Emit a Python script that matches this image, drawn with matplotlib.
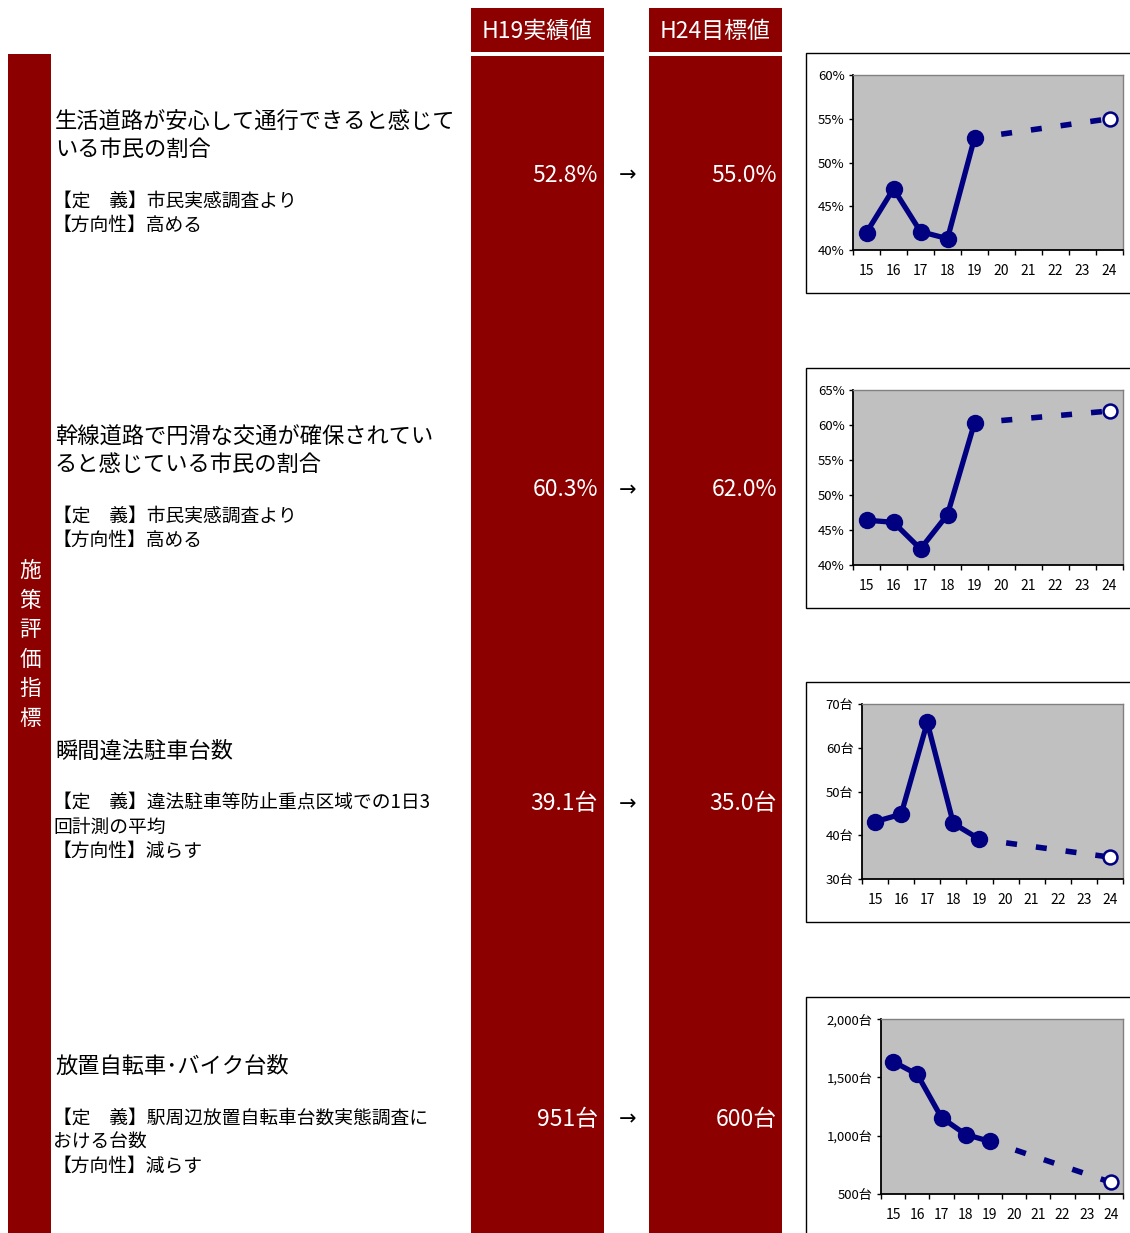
import numpy as np
import matplotlib.pyplot as plt
from matplotlib.patches import Rectangle
from matplotlib.ticker import FixedLocator, FuncFormatter

plt.rcParams['font.family'] = ['Noto Sans CJK JP', 'DejaVu Sans']
plt.rcParams['lines.scale_dashes'] = False

# ---- data ----
years = ['15', '16', '17', '18', '19', '20', '21', '22', '23', '24']

titles = [
    ['生活道路が安心して通行できると感じて', 'いる市民の割合'],
    ['幹線道路で円滑な交通が確保されてい', 'ると感じている市民の割合'],
    ['瞬間違法駐車台数'],
    ['放置自転車\uff65バイク台数'],
]
definitions = [
    ['【定\u3000義】市民実感調査より', '【方向性】高める'],
    ['【定\u3000義】市民実感調査より', '【方向性】高める'],
    ['【定\u3000義】違法駐車等防止重点区域での1日3', '回計測の平均', '【方向性】減らす'],
    ['【定\u3000義】駅周辺放置自転車台数実態調査に', 'おける台数', '【方向性】減らす'],
]
h19_labels = ['52.8%', '60.3%', '39.1台', '951台']
h24_labels = ['55.0%', '62.0%', '35.0台', '600台']

actual_1 = [42.0, 47.0, 42.1, 41.3, 52.8]
actual_2 = [46.4, 46.1, 42.3, 47.2, 60.3]
actual_3 = [43.1, 44.8, 65.8, 42.7, 39.1]
actual_4 = [1635, 1525, 1155, 1010, 951]
target_1 = [52.8, 55.0]
target_2 = [60.3, 62.0]
target_3 = [39.1, 35.0]
target_4 = [951, 600]

y_ranges = [(40, 60, 5), (40, 65, 5), (30, 70, 10), (500, 2000, 500)]
y_fmt = [
    lambda v, p: f'{v:.0f}%',
    lambda v, p: f'{v:.0f}%',
    lambda v, p: f'{v:.0f}台',
    lambda v, p: f'{v:,.0f}台',
]
actuals = [actual_1, actual_2, actual_3, actual_4]
targets = [target_1, target_2, target_3, target_4]

# ---- layout (pixels) ----
W, H = 1130, 1233
RED = '#8c0000'
NAVY = '#000080'
row_c = [175, 490, 804, 1119]
plot_left = [853, 853, 862, 881]

fig = plt.figure(figsize=(W / 100, H / 100), dpi=100)
bg = fig.add_axes([0, 0, 1, 1])
bg.set_xlim(0, W)
bg.set_ylim(H, 0)
bg.axis('off')

# left band + column blocks
bg.add_patch(Rectangle((8, 54), 43, H - 54, color=RED, lw=0))
for x0, head in [(471, 'H19実績値'), (649, 'H24目標値')]:
    bg.add_patch(Rectangle((x0, 8), 133, 44, color=RED, lw=0))
    bg.add_patch(Rectangle((x0, 56), 133, H - 56, color=RED, lw=0))
    bg.text(x0 + 66.5, 31, head, color='white', fontsize=16.5,
            ha='center', va='center')

for i, ch in enumerate('施策評価指標'):
    bg.text(30, 571 + i * 29.6, ch, color='white', fontsize=15.5,
            ha='center', va='center')

for r in range(4):
    c = row_c[r]
    y = c - 53
    for line in titles[r]:
        bg.text(55, y, line, fontsize=16, ha='left', va='center', color='black')
        y += 27
    y = c - 53 + 27 * len(titles[r]) + 25
    for line in definitions[r]:
        bg.text(53, y, line, fontsize=13.5, ha='left', va='center', color='black')
        y += 24
    bg.text(598, c, h19_labels[r], color='white', fontsize=16.5, ha='right', va='center')
    bg.text(777, c, h24_labels[r], color='white', fontsize=16.5, ha='right', va='center')
    bg.text(628, c, '→', color='black', fontsize=15, ha='center', va='center',
            family=['DejaVu Sans'])

    # chart frame
    box_top = c - 122
    bg.add_patch(Rectangle((806, box_top), 400, 240, facecolor='white',
                           edgecolor='black', lw=1))

# ---- small charts ----
x = np.arange(len(years))
for r in range(4):
    box_top = row_c[r] - 122
    l, t, w, h = plot_left[r], box_top + 22, 1123 - plot_left[r], 175
    ax = fig.add_axes([l / W, 1 - (t + h) / H, w / W, h / H])
    ax.set_facecolor('#c0c0c0')
    lo, hi, step = y_ranges[r]
    ax.set_xlim(-0.5, 9.5)
    ax.set_ylim(lo, hi)

    ax.plot([4, 9], targets[r], color=NAVY, lw=4,
            linestyle=(2.2, (7.9, 13.7)), zorder=2)
    ax.plot(x[:5], actuals[r], color=NAVY, lw=3.8, marker='o', ms=11.5,
            solid_joinstyle='round', zorder=3)
    ax.plot([9], [targets[r][1]], linestyle='none', marker='o', ms=10,
            mfc='white', mec=NAVY, mew=1.8, zorder=4, clip_on=False)

    ax.xaxis.set_major_locator(FixedLocator(np.arange(-0.5, 10, 1)))
    ax.xaxis.set_major_formatter(FuncFormatter(lambda v, p: ''))
    ax.set_xticks(x, years, minor=True)
    ax.tick_params(axis='x', which='major', direction='out', length=3.5, width=1)
    ax.tick_params(axis='x', which='minor', length=0, pad=10, labelsize=10,
                   labelcolor='black')
    ax.set_yticks(np.arange(lo, hi + step / 2, step))
    ax.yaxis.set_major_formatter(FuncFormatter(y_fmt[r]))
    ax.tick_params(axis='y', direction='out', length=3, width=1, pad=3,
                   labelsize=9.5, labelcolor='black')

    for s in ['left', 'bottom']:
        ax.spines[s].set_color('black')
        ax.spines[s].set_linewidth(1.3)
    for s in ['top', 'right']:
        ax.spines[s].set_color('#808080')
        ax.spines[s].set_linewidth(1)

fig.savefig('out.png', dpi=100)
